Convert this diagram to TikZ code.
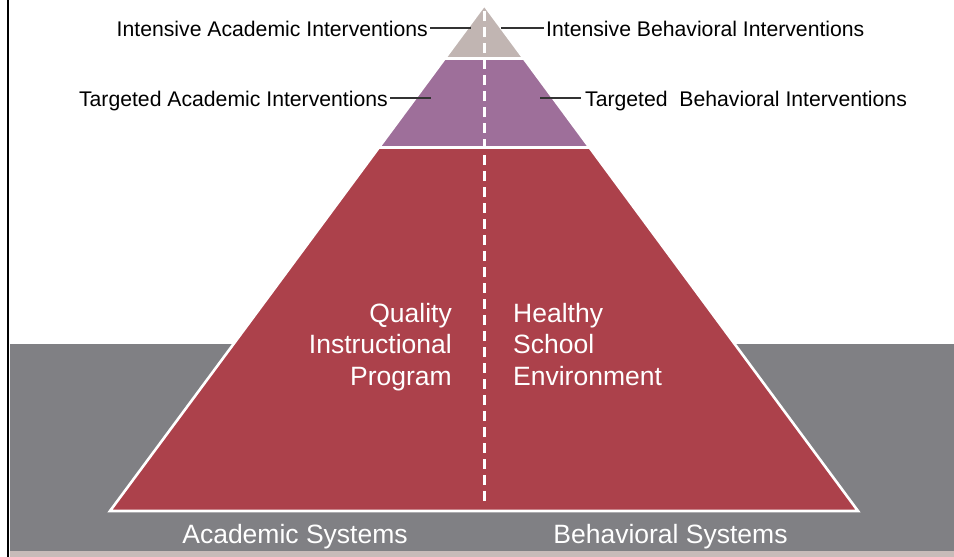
\documentclass[tikz,border=0pt]{standalone}
\usepackage{fontspec}
\setmainfont{Liberation Sans}
\usetikzlibrary{calc}
\definecolor{topgray}{HTML}{C1B5B2}
\definecolor{midpurple}{HTML}{9E6F9A}
\definecolor{basered}{HTML}{AC414B}
\definecolor{bandgray}{HTML}{808084}
\definecolor{stripgray}{HTML}{C8BBB9}
\definecolor{leader}{HTML}{333333}
\tikzset{
  toplabel/.style={inner sep=0pt, font=\fontsize{21.2}{25}\selectfont, text=black},
  biglabel/.style={inner sep=0pt, font=\fontsize{26.5}{31.5}\selectfont, text=white},
  leaderline/.style={draw=leader, line width=1.2pt},
  layeredge/.style={draw=white, line width=2.6pt, line join=miter},
  centerdash/.style={draw=white, line width=3.5pt, dash pattern=on 10pt off 6pt}
}
\begin{document}
\begin{tikzpicture}[x=1pt,y=-1pt]
\useasboundingbox (0,0) rectangle (954,557);
\fill[white] (0,0) rectangle (954,557);
% background band and strip
\fill[bandgray] (10,344) rectangle (954,551);
\fill[stripgray] (10,551) rectangle (954,557);
\fill[black] (7,0) rectangle (9.2,557);
% pyramid corners
\coordinate (A) at (484.3,5);
\coordinate (BL) at (110,511);
\coordinate (BR) at (858,511);
\coordinate (L1) at ($(A)!0.1057!(BL)$);
\coordinate (R1) at ($(A)!0.1057!(BR)$);
\coordinate (L2) at ($(A)!0.2816!(BL)$);
\coordinate (R2) at ($(A)!0.2816!(BR)$);
\fill[topgray] (A) -- (L1) -- (R1) -- cycle;
\fill[midpurple] (L1) -- (L2) -- (R2) -- (R1) -- cycle;
\fill[basered] (L2) -- (BL) -- (BR) -- (R2) -- cycle;
\draw[layeredge] (A) -- (BL) -- (BR) -- cycle;
\draw[draw=white, line width=3pt] (L1) -- (R1);
\draw[draw=white, line width=3pt] (L2) -- (R2);
% centre dashed line
\coordinate (dtop) at (484.7,11);
\coordinate (dbot) at (484.7,503);
\draw[centerdash] (dtop) -- (dbot);
% top labels
\node[toplabel, anchor=base east] (ial) at (428,36) {Intensive Academic Interventions};
\node[toplabel, anchor=base west] (ibi) at (546,36) {Intensive Behavioral Interventions};
\node[toplabel, anchor=base east] (tal) at (388,106) {Targeted Academic Interventions};
\node[toplabel, anchor=base west] (tbi) at (585,106) {Targeted\ \ Behavioral Interventions};
\coordinate (ialend) at (471,28);
\coordinate (ibiend) at (501,28);
\coordinate (talend) at (431,98);
\coordinate (tbiend) at (540,98);
\draw[leaderline] ([xshift=2pt,yshift=8pt]ial.base east) -- (ialend);
\draw[leaderline] (ibiend) -- ([xshift=-2pt,yshift=8pt]ibi.base west);
\draw[leaderline] ([xshift=2pt,yshift=8pt]tal.base east) -- (talend);
\draw[leaderline] (tbiend) -- ([xshift=-4pt,yshift=8pt]tbi.base west);
% inner labels
\node[biglabel, anchor=base east] (q1) at (452,322) {Quality};
\node[biglabel, anchor=base east] (q2) at (452,353.5) {Instructional};
\node[biglabel, anchor=base east] (q3) at (452,385) {Program};
\node[biglabel, anchor=base west] (h1) at (513,322) {Healthy};
\node[biglabel, anchor=base west] (h2) at (513,353.5) {School};
\node[biglabel, anchor=base west] (h3) at (513,385) {Environment};
% bottom labels
\node[biglabel, anchor=base] (acs) at (295,543) {Academic Systems};
\node[biglabel, anchor=base] (bes) at (670.5,543) {Behavioral Systems};
\end{tikzpicture}
\end{document}
